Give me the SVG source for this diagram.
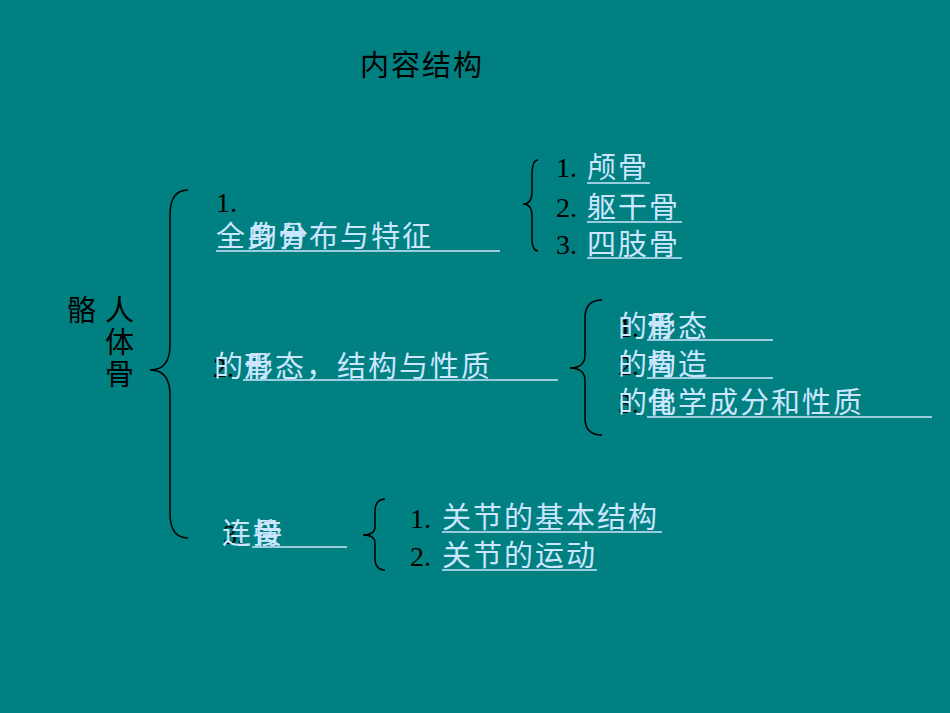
<svg xmlns="http://www.w3.org/2000/svg" width="950" height="713" viewBox="0 0 950 713">
<style>
.cjk{font-family:"Noto Sans CJK SC","Noto Sans",sans-serif;font-size:29px;letter-spacing:2px}
.blk{fill:#000}
.lt{fill:#cce6ff}
.num{font-family:"Liberation Serif",serif;font-size:28px;fill:#000}
.ul{stroke:#cce6ff;stroke-width:1.5}
.brace{fill:none;stroke:#000;stroke-width:1.5}
</style>
<rect width="950" height="713" fill="#008080"/>
<g id="title"><text class="cjk blk" x="360" y="76">内容结构</text></g>
<g id="root">
<text class="cjk blk" x="67" y="321">骼</text>
<text class="cjk blk" x="105" y="321">人</text>
<text class="cjk blk" x="105" y="353">体</text>
<text class="cjk blk" x="105" y="385">骨</text>
</g>
<g id="connectors">
<path class="brace" d="M188,190 Q170,190 170,215 L170,345 Q170,370 150,370 Q170,370 170,395 L170,513 Q170,538 188,538"/>
<path class="brace" d="M538,160 Q532,160 532,175 L532,192 Q532,204 523,204 Q532,204 532,216 L532,238 Q532,251 538,251"/>
<path class="brace" d="M602,300 Q585,300 585,318 L585,355 Q585,368 570,368 Q585,368 585,381 L585,418 Q585,435 602,435"/>
<path class="brace" d="M385,499 Q375,499 375,512 L375,527 Q375,535 363,535 Q375,535 375,543 L375,558 Q375,570 385,570"/>
</g>
<g id="n1">
<text class="num" x="216" y="212">1.</text>
<text class="cjk lt" x="216" y="247">全身骨布与特征</text>
<text class="cjk lt" x="248" y="247">的分</text>
<line class="ul" x1="216" y1="251" x2="500" y2="251"/>
</g>
<g id="n1a"><text class="num" x="556" y="177">1.</text><text class="cjk lt" x="587" y="178">颅骨</text><line class="ul" x1="587" y1="183" x2="650" y2="183"/></g>
<g id="n1b"><text class="num" x="556" y="217">2.</text><text class="cjk lt" x="587" y="218">躯干骨</text><line class="ul" x1="587" y1="222" x2="682" y2="222"/></g>
<g id="n1c"><text class="num" x="556" y="254">3.</text><text class="cjk lt" x="587" y="255">四肢骨</text><line class="ul" x1="587" y1="258" x2="682" y2="258"/></g>
<g id="n2">
<text class="num" x="213" y="377">2.</text>
<text class="cjk lt" x="214" y="377">的</text>
<text class="cjk lt" x="244" y="377">骨态，结构与性质</text>
<text class="cjk lt" x="244" y="377">形</text>
<line class="ul" x1="243" y1="380" x2="558" y2="380"/>
</g>
<g id="n2a"><text class="num" x="618" y="337">1.</text><text class="cjk lt" x="618" y="337">的</text><text class="cjk lt" x="647" y="337">骨态</text><text class="cjk lt" x="647" y="337">形</text><line class="ul" x1="647" y1="340" x2="773" y2="340"/></g>
<g id="n2b"><text class="num" x="618" y="375">2.</text><text class="cjk lt" x="618" y="375">的</text><text class="cjk lt" x="647" y="375">骨造</text><text class="cjk lt" x="647" y="375">构</text><line class="ul" x1="647" y1="378" x2="773" y2="378"/></g>
<g id="n2c"><text class="num" x="618" y="413">3.</text><text class="cjk lt" x="618" y="413">的</text><text class="cjk lt" x="647" y="413">骨学成分和性质</text><text class="cjk lt" x="647" y="413">化</text><line class="ul" x1="647" y1="417" x2="932" y2="417"/></g>
<g id="n3">
<text class="num" x="223" y="544">3.</text>
<text class="cjk lt" x="222" y="544">连</text>
<text class="cjk lt" x="253" y="544">骨</text>
<text class="cjk lt" x="253" y="544">接</text>
<line class="ul" x1="252" y1="547" x2="347" y2="547"/>
</g>
<g id="n3a"><text class="num" x="410" y="528">1.</text><text class="cjk lt" x="442" y="528">关节的基本结构</text><line class="ul" x1="442" y1="532" x2="662" y2="532"/></g>
<g id="n3b"><text class="num" x="410" y="566">2.</text><text class="cjk lt" x="442" y="566">关节的运动</text><line class="ul" x1="442" y1="570" x2="597" y2="570"/></g>
</svg>
